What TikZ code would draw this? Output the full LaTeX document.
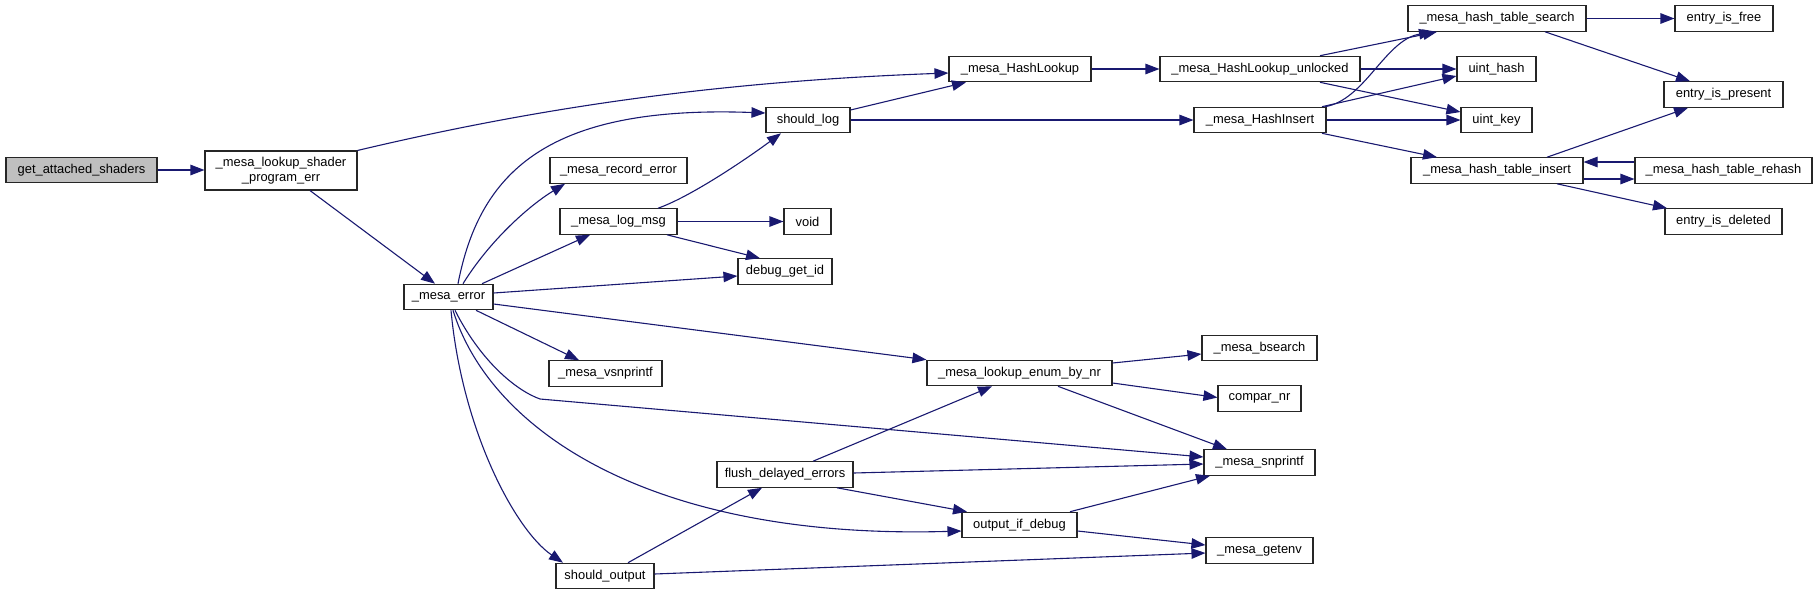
\documentclass[tikz,border=0pt]{standalone}
\usepackage{fontspec}
\setmainfont{Liberation Sans}
\usepackage{tikz}
\usetikzlibrary{arrows.meta,positioning}
\definecolor{edge_blue}{RGB}{25,25,112}
\definecolor{root_gray}{RGB}{191,191,191}

\begin{document}
\begin{tikzpicture}[x=1pt, y=-1pt,
      fn/.style={draw=black!85, line width=1.1pt, fill=white, rectangle,
                 inner sep=0pt, minimum height=25.5pt, align=center,
                 font=\fontsize{12.9}{15}\selectfont},
      call/.style={draw=edge_blue, line width=1.1pt,
                   -{Triangle[length=14pt,width=10.5pt]}, edge_blue}]
    \useasboundingbox (0,0) rectangle (1819,595);
    % column 1-2
    \node[fn, fill=root_gray, minimum width=151pt] (gas) at (81.5,170) {get\_attached\_shaders};
    \node[fn, minimum width=152pt, minimum height=39pt] (lspe) at (281,170.5)
      {\_mesa\_lookup\_shader\\\_program\_err};
    \node[fn, minimum width=89pt] (err) at (448.5,297) {\_mesa\_error};
    % column 3
    \node[fn, minimum width=137pt] (recerr) at (618.5,170.5) {\_mesa\_record\_error};
    \node[fn, minimum width=117pt] (logmsg) at (618.5,221.5) {\_mesa\_log\_msg};
    \node[fn, minimum width=113pt] (vsn) at (605.5,373.5) {\_mesa\_vsnprintf};
    \node[fn, minimum width=98pt] (sout) at (605,576) {should\_output};
    % column 4
    \node[fn, minimum width=84pt] (slog) at (808,120) {should\_log};
    \node[fn, minimum width=47pt] (void) at (807.5,221.5) {void};
    \node[fn, minimum width=94pt] (dbgid) at (785,271.5) {debug\_get\_id};
    \node[fn, minimum width=136pt] (flush) at (785,474.5) {flush\_delayed\_errors};
    % column 5
    \node[fn, minimum width=142pt] (hlook) at (1020,69) {\_mesa\_HashLookup};
    \node[fn, minimum width=185pt] (lenum) at (1019.5,373) {\_mesa\_lookup\_enum\_by\_nr};
    \node[fn, minimum width=115pt] (oid) at (1019.5,525) {output\_if\_debug};
    % column 6
    \node[fn, minimum width=200pt] (hlooku) at (1260,69) {\_mesa\_HashLookup\_unlocked};
    \node[fn, minimum width=132pt] (hins) at (1260,120) {\_mesa\_HashInsert};
    \node[fn, minimum width=115pt] (bsearch) at (1259.5,348) {\_mesa\_bsearch};
    \node[fn, minimum width=83pt] (compar) at (1259.5,398.5) {compar\_nr};
    \node[fn, minimum width=111pt] (snpr) at (1259.5,462.5) {\_mesa\_snprintf};
    \node[fn, minimum width=107pt] (getenv) at (1259.5,550.5) {\_mesa\_getenv};
    % column 7
    \node[fn, minimum width=178pt] (htsearch) at (1497,18.5) {\_mesa\_hash\_table\_search};
    \node[fn, minimum width=79pt] (uhash) at (1496.5,69) {uint\_hash};
    \node[fn, minimum width=71pt] (ukey) at (1496.5,120) {uint\_key};
    \node[fn, minimum width=172pt] (htinsert) at (1497,170.5) {\_mesa\_hash\_table\_insert};
    % column 8
    \node[fn, minimum width=98pt] (efree) at (1724,18.5) {entry\_is\_free};
    \node[fn, minimum width=119pt] (epresent) at (1723.5,94.5) {entry\_is\_present};
    \node[fn, minimum width=177pt] (htrehash) at (1723.5,170.5) {\_mesa\_hash\_table\_rehash};
    \node[fn, minimum width=117pt] (edeleted) at (1723.5,221.5) {entry\_is\_deleted};

    % calls
    \draw[call] (gas.east) -- (lspe.west |- gas.east);
    \draw[call] (lspe.north east) .. controls (520,112) and (700,82) .. ([yshift=-4pt]hlook.west);
    \draw[call] ([xshift=29pt]lspe.south) -- ([xshift=-13.5pt]err.north);
    \draw[call] ([xshift=9.5pt]err.north) .. controls (480,170) and (550,105) .. ([yshift=7pt]slog.west);
    \draw[call] ([xshift=14.5pt]err.north) .. controls (490,240) and (530,205) .. ([xshift=-53.5pt]recerr.south);
    \draw[call] ([xshift=33.5pt]err.north) -- ([xshift=-28.5pt]logmsg.south);
    \draw[call] ([xshift=39.5pt]logmsg.north) .. controls (690,197) and (745,160) .. ([xshift=-27pt]slog.south);
    \draw[call] (logmsg.east) -- (void.west);
    \draw[call] ([xshift=48.5pt]logmsg.south) -- ([xshift=-25pt]dbgid.north);
    \draw[call] ([yshift=4pt]err.east) -- ([yshift=-4.5pt]dbgid.west);
    \draw[call] ([xshift=27.5pt]err.south) -- ([xshift=-26.5pt]vsn.north);
    \draw[call] ([yshift=-7pt]err.east) -- (lenum.north west);
    \draw[call] ([xshift=6.5pt]err.south) .. controls (480,360) and (515,390) .. (540,399)
      -- ([yshift=5.5pt]snpr.west);
    \draw[call] ([xshift=4.5pt]err.south) .. controls (490,430) and (650,540) .. ([yshift=-6pt]oid.west);
    \draw[call] ([xshift=2.5pt]err.south) .. controls (462,430) and (515,530) .. ([xshift=-42pt]sout.north);
    \draw[call] ([yshift=10pt]slog.east) -- ([xshift=-54pt]hlook.south);
    \draw[call] (slog.east) -- (hins.west);
    \draw[call] (hlook.east) -- (hlooku.west);
    \draw[call] ([xshift=60pt]hlooku.north) -- ([xshift=-60pt]htsearch.south);
    \draw[call] (hlooku.east) -- (uhash.west);
    \draw[call] ([xshift=60pt]hlooku.south) -- ([yshift=8pt]ukey.west);
    \draw[call] ([xshift=65pt]hins.north) .. controls (1365,100) and (1385,40) .. ([xshift=-64pt]htsearch.south);
    \draw[call] ([xshift=62pt]hins.north) -- ([yshift=-7pt]uhash.west);
    \draw[call] (hins.east) -- (ukey.west);
    \draw[call] ([xshift=62pt]hins.south) -- ([xshift=-60pt]htinsert.north);
    \draw[call] (htsearch.east) -- (efree.west);
    \draw[call] ([xshift=48pt]htsearch.south) -- ([xshift=-33.5pt]epresent.north);
    \draw[call] ([xshift=50pt]htinsert.north) -- ([xshift=-35.5pt]epresent.south);
    \draw[call] ([yshift=-8.5pt]htinsert.east) -- ([yshift=-8.5pt]htrehash.west);
    \draw[call] ([yshift=8.5pt]htrehash.west) -- ([yshift=8.5pt]htinsert.east);
    \draw[call] ([xshift=60pt]htinsert.south) -- ([xshift=-56.5pt]edeleted.north);
    \draw[call] ([yshift=10pt]lenum.east) -- ([yshift=-6pt]bsearch.west);
    \draw[call] ([yshift=-10pt]lenum.east) -- ([yshift=1pt]compar.west);
    \draw[call] ([xshift=38.5pt]lenum.south) -- ([xshift=-32.5pt]snpr.north);
    \draw[call] ([xshift=28pt]flush.north) -- ([xshift=-27.5pt]lenum.south);
    \draw[call] ([yshift=1.5pt]flush.east) -- ([yshift=-1.5pt]snpr.west);
    \draw[call] ([xshift=52pt]flush.south) -- ([xshift=-52.5pt]oid.north);
    \draw[call] ([xshift=50.5pt]oid.north) -- ([xshift=-49.5pt]snpr.south);
    \draw[call] ([yshift=-6pt]oid.east) -- ([yshift=5.5pt]getenv.west);
    \draw[call] ([xshift=23pt]sout.north) -- ([xshift=-23pt]flush.south);
    \draw[call] ([yshift=2pt]sout.east) -- ([yshift=-2.5pt]getenv.west);
  \end{tikzpicture}
\end{document}
